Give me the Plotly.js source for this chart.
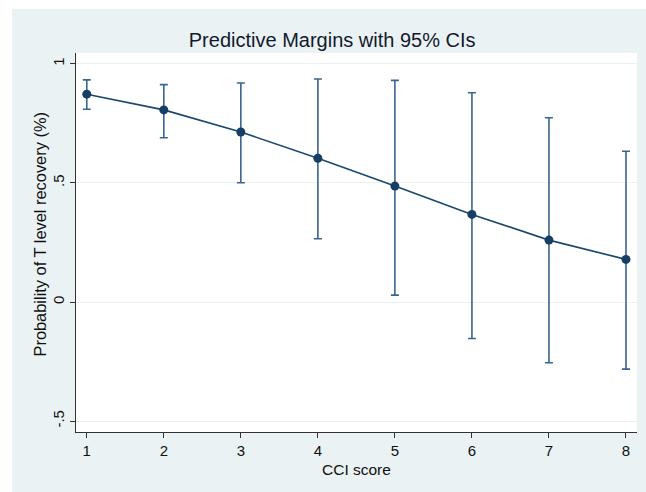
<!DOCTYPE html>
<html>
<head>
<meta charset="utf-8">
<script src="https://cdn.plot.ly/plotly-3.0.1.min.js"></script>
<style>
  html, body { margin: 0; padding: 0; background: #ffffff; width: 646px; height: 492px; overflow: hidden; }
  #chart { position: absolute; left: 12px; top: 9px; width: 634px; height: 483px; }
</style>
</head>
<body>
<div id="chart"></div>
<script>
// Data
const cciScore = [1, 2, 3, 4, 5, 6, 7, 8];
const margin   = [0.873, 0.807, 0.714, 0.604, 0.487, 0.368, 0.260, 0.179];
const ciLower  = [0.810, 0.690, 0.501, 0.266, 0.029, -0.153, -0.255, -0.282];
const ciUpper  = [0.933, 0.913, 0.920, 0.937, 0.931, 0.879, 0.774, 0.633];
const yTickVals = [-0.5, 0, 0.5, 1];
const yTickText = ['-.5', '0', '.5', '1'];
const xTitle = 'CCI score';
const yTitle = 'Probability of T level recovery (%)';

const font = 'Liberation Sans, Arial, Helvetica, sans-serif';

const trace = {
  x: cciScore,
  y: margin,
  type: 'scatter',
  mode: 'lines+markers',
  line: { color: '#1a476f', width: 1.6 },
  marker: { color: '#173f66', size: 9 },
  error_y: {
    type: 'data',
    symmetric: false,
    array: margin.map((m, i) => ciUpper[i] - m),
    arrayminus: margin.map((m, i) => m - ciLower[i]),
    color: '#3a6591',
    thickness: 1.6,
    width: 4
  },
  hoverinfo: 'x+y'
};

const layout = {
  width: 634,
  height: 483,
  paper_bgcolor: '#eaf2f3',
  plot_bgcolor: '#ffffff',
  margin: { l: 64, r: 9, t: 44, b: 60 },
  showlegend: false,
  font: { family: font, color: '#111111', size: 15 },
  title: {
    text: 'Predictive Margins with 95% CIs',
    font: { family: font, size: 20, color: '#141a2e' },
    x: 0.505, xref: 'container', xanchor: 'center',
    y: 0.936, yref: 'container', yanchor: 'middle'
  },
  xaxis: {
    range: [0.86, 8.143],
    tickvals: cciScore,
    ticktext: cciScore.map(String),
    ticks: 'outside', ticklen: 5, tickwidth: 1, tickcolor: '#333333',
    showline: true, linecolor: '#333333', linewidth: 1,
    showgrid: false, zeroline: false,
    tickfont: { family: font, size: 15, color: '#111111' },
    automargin: false
  },
  yaxis: {
    range: [-0.546, 1.046],
    tickvals: yTickVals,
    ticktext: yTickText,
    tickangle: -90,
    ticks: 'outside', ticklen: 5, tickwidth: 1, tickcolor: '#333333',
    showline: true, linecolor: '#333333', linewidth: 1,
    showgrid: true, gridcolor: '#eaf2f3', gridwidth: 1,
    zeroline: false,
    tickfont: { family: font, size: 15, color: '#111111' },
    automargin: false
  },
  annotations: [
    {
      text: xTitle, showarrow: false,
      xref: 'paper', yref: 'paper', x: 0.5, y: 0,
      xanchor: 'center', yanchor: 'middle', yshift: -37,
      font: { family: font, size: 15.5, color: '#111111' }
    },
    {
      text: yTitle, showarrow: false, textangle: -90,
      xref: 'paper', yref: 'paper', x: 0, y: 0.5,
      xanchor: 'center', yanchor: 'middle', xshift: -37, yshift: 8,
      font: { family: font, size: 16.4, color: '#111111' }
    }
  ]
};

Plotly.newPlot('chart', [trace], layout, { displayModeBar: false, staticPlot: true });
</script>
</body>
</html>
